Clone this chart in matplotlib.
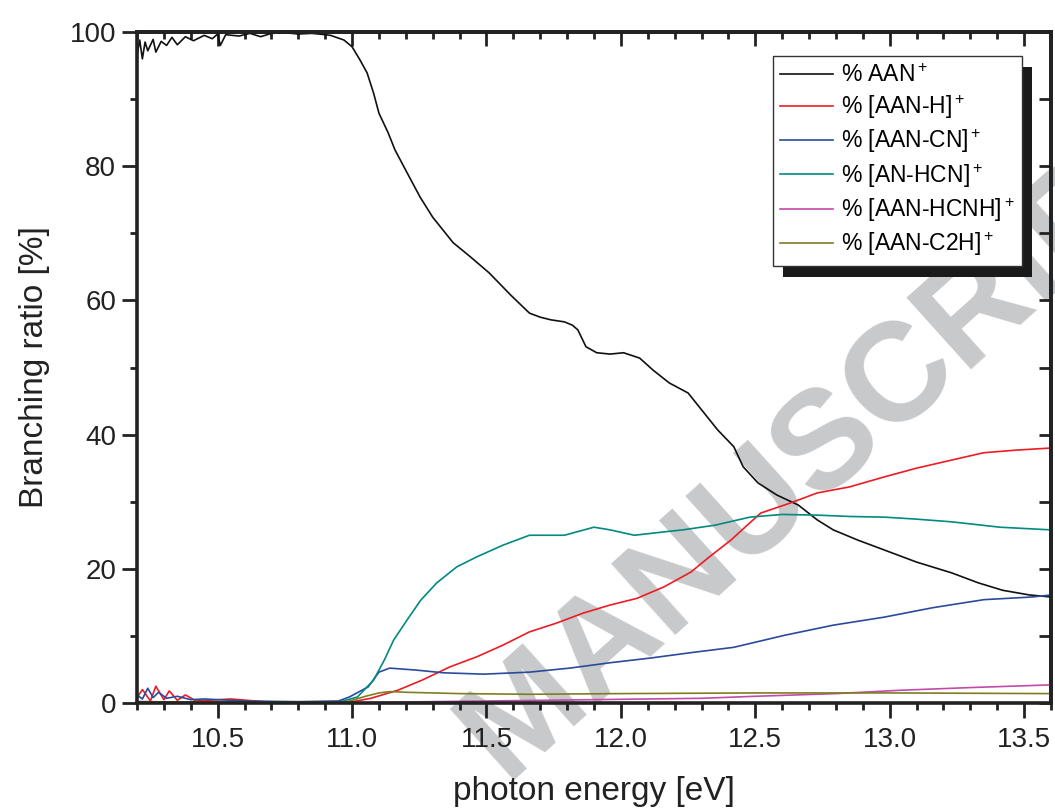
import matplotlib
matplotlib.use("Agg")
import matplotlib.pyplot as plt
from matplotlib.patches import Rectangle
from matplotlib.ticker import MultipleLocator

plt.rcParams['font.family'] = ['Liberation Sans', 'DejaVu Sans']
plt.rcParams['mathtext.fontset'] = 'custom'
plt.rcParams['mathtext.rm'] = 'Liberation Sans'
plt.rcParams['mathtext.it'] = 'Liberation Sans'

# values
aan_e = [10.20, 10.21, 10.22, 10.23, 10.24, 10.26, 10.27, 10.29, 10.31, 10.33, 10.35, 10.38,
         10.41, 10.45, 10.48, 10.50, 10.51, 10.53, 10.58, 10.62, 10.66, 10.70, 10.75, 10.80,
         10.85, 10.90, 10.92, 10.97, 11.00, 11.03, 11.056, 11.08, 11.10, 11.134, 11.16, 11.205,
         11.253, 11.30, 11.376, 11.44, 11.51, 11.59, 11.66, 11.70, 11.74, 11.79, 11.82, 11.84,
         11.87, 11.91, 11.96, 12.01, 12.07, 12.12, 12.18, 12.25, 12.31, 12.36, 12.42, 12.455,
         12.51, 12.58, 12.66, 12.73, 12.79, 12.88, 12.98, 13.10, 13.23, 13.33, 13.42, 13.52, 13.60]
aan_v = [96.5, 98.8, 96.0, 98.5, 97.2, 98.9, 97.0, 98.6, 98.0, 99.2, 98.1, 99.3,
         98.7, 99.5, 99.0, 99.7, 98.0, 99.6, 99.4, 99.8, 99.3, 99.8, 99.9, 99.7,
         99.8, 99.6, 99.5, 98.8, 97.8, 95.8, 93.9, 90.9, 87.9, 85.0, 82.4, 79.0,
         75.4, 72.4, 68.6, 66.5, 64.1, 60.8, 58.1, 57.5, 57.1, 56.8, 56.3, 55.6,
         53.1, 52.2, 52.0, 52.2, 51.4, 49.6, 47.7, 46.2, 43.2, 40.7, 38.2, 35.2,
         32.8, 31.0, 29.5, 27.3, 25.8, 24.3, 22.8, 21.0, 19.4, 17.9, 16.8, 16.1, 15.8]

h_e = [10.20, 10.22, 10.25, 10.27, 10.30, 10.32, 10.35, 10.38, 10.42, 10.55, 10.70, 10.95,
       10.99, 11.07, 11.17, 11.26, 11.365, 11.465, 11.56, 11.66, 11.76, 11.86, 11.96, 12.06,
       12.16, 12.26, 12.33, 12.41, 12.47, 12.52, 12.63, 12.73, 12.85, 12.98, 13.10, 13.23,
       13.35, 13.475, 13.60]
h_v = [0.8, 2.0, 0.3, 2.5, 0.5, 1.8, 0.4, 1.2, 0.3, 0.6, 0.1, 0.0,
       0.1, 0.7, 1.9, 3.4, 5.4, 6.9, 8.6, 10.6, 11.9, 13.4, 14.6, 15.6,
       17.3, 19.5, 21.8, 24.3, 26.5, 28.3, 29.8, 31.3, 32.2, 33.7, 35.0, 36.2,
       37.3, 37.7, 38.0]

cn_e = [10.20, 10.22, 10.24, 10.26, 10.28, 10.31, 10.35, 10.40, 10.45, 10.60, 10.80, 10.95,
        10.99, 11.06, 11.10, 11.14, 11.24, 11.34, 11.49, 11.66, 11.81, 11.96, 12.11, 12.26,
        12.42, 12.61, 12.79, 12.98, 13.16, 13.35, 13.53, 13.60]
cn_v = [1.2, 0.6, 2.2, 0.8, 1.6, 0.7, 1.0, 0.5, 0.6, 0.3, 0.2, 0.3,
        0.9, 2.4, 4.6, 5.2, 4.9, 4.5, 4.3, 4.6, 5.2, 6.0, 6.7, 7.5,
        8.3, 10.1, 11.6, 12.8, 14.2, 15.4, 15.8, 16.1]

hcn_e = [10.20, 10.60, 10.95, 11.02, 11.08, 11.12, 11.155, 11.205, 11.255, 11.315, 11.39,
         11.465, 11.56, 11.66, 11.74, 11.79, 11.90, 11.96, 12.05, 12.16, 12.23, 12.35, 12.48,
         12.60, 12.73, 12.85, 12.98, 13.10, 13.23, 13.41, 13.60]
hcn_v = [0.2, 0.1, 0.1, 0.9, 3.4, 6.4, 9.4, 12.4, 15.3, 17.9, 20.3,
         21.8, 23.5, 25.0, 25.0, 25.0, 26.2, 25.8, 25.0, 25.5, 25.8, 26.5, 27.7,
         28.1, 28.0, 27.8, 27.7, 27.4, 27.0, 26.2, 25.8]

hcnh_e = [10.20, 10.60, 11.00, 11.10, 11.30, 11.50, 12.00, 12.30, 12.50, 12.80, 13.04, 13.30, 13.60]
hcnh_v = [0.1, 0.0, 0.0, 0.1, 0.2, 0.3, 0.55, 0.7, 1.0, 1.4, 1.9, 2.3, 2.7]

c2h_e = [10.20, 10.60, 10.97, 11.00, 11.05, 11.10, 11.14, 11.20, 11.40, 11.66, 12.00, 12.50, 13.00, 13.60]
c2h_v = [0.2, 0.1, 0.1, 0.4, 1.0, 1.5, 1.7, 1.6, 1.4, 1.3, 1.4, 1.5, 1.5, 1.4]

labels = ['% AAN$^+$', '% [AAN-H]$^+$', '% [AAN-CN]$^+$', '% [AN-HCN]$^+$',
          '% [AAN-HCNH]$^+$', '% [AAN-C2H]$^+$']
colors = ['#111111', '#ed1c24', '#2a4b9b', '#008a80', '#c34aa9', '#7f7d22']

W, H = 1055, 809
fig = plt.figure(figsize=(W / 100, H / 100), dpi=100)
ax = fig.add_axes([137/W, 1 - 703/H, (1051 - 137)/W, (703 - 32)/H])
ax.patch.set_alpha(0)

# watermark behind everything
fig.text(505/W, 1 - 780/H, 'MANUSCRIPT', rotation=42, rotation_mode='anchor',
         ha='left', va='baseline', fontsize=101, fontweight='bold',
         color='#c8c9cb', zorder=-1)

series = [(aan_e, aan_v), (h_e, h_v), (cn_e, cn_v), (hcn_e, hcn_v),
          (hcnh_e, hcnh_v), (c2h_e, c2h_v)]
for (e, v), lab, c in zip(series, labels, colors):
    ax.plot(e, v, color=c, lw=1.2, label=lab)

ax.set_xlim(10.2, 13.6)
ax.set_ylim(0, 100)
ax.xaxis.set_minor_locator(MultipleLocator(0.1))
ax.yaxis.set_major_locator(MultipleLocator(20))
ax.yaxis.set_minor_locator(MultipleLocator(10))
ax.set_xticks([10.5, 11.0, 11.5, 12.0, 12.5, 13.0, 13.5])
ax.set_xticklabels(['10.5', '11.0', '11.5', '12.0', '12.5', '13.0', '13.5'])
ax.tick_params(which='both', direction='out', width=2.0, labelsize=20, colors='#222222')
ax.tick_params(which='major', length=11)
ax.tick_params(which='minor', length=5)
ax.tick_params(axis='y', pad=4)
for s in ax.spines.values():
    s.set_linewidth(2.6)
    s.set_color('#222222')

# mirrored ticks pointing into the frame
top = ax.secondary_xaxis('top')
top.xaxis.set_major_locator(MultipleLocator(0.5))
top.xaxis.set_minor_locator(MultipleLocator(0.1))
top.tick_params(which='both', direction='in', width=2.0, labeltop=False, colors='#222222')
top.tick_params(which='major', length=10)
top.tick_params(which='minor', length=5)
top.spines['top'].set_linewidth(2.6)
right = ax.secondary_yaxis('right')
right.yaxis.set_major_locator(MultipleLocator(20))
right.yaxis.set_minor_locator(MultipleLocator(10))
right.tick_params(which='both', direction='in', width=2.0, labelright=False, colors='#222222')
right.tick_params(which='both', length=9)
right.spines['right'].set_linewidth(2.6)

ax.set_xlabel('photon energy [eV]', fontsize=24, color='#222222')
ax.set_ylabel('Branching ratio [%]', fontsize=24, color='#222222', labelpad=14)
ax.xaxis.set_label_coords(0.5, (703 - 776) / (703 - 32))

leg = ax.legend(loc='upper right', bbox_to_anchor=(1022/W, 1 - 56/H),
                bbox_transform=fig.transFigure, borderaxespad=0, fontsize=16.5,
                handlelength=2.3, handletextpad=0.35, labelspacing=0.28,
                borderpad=0.33, fancybox=False, framealpha=1, edgecolor='#333333')
leg.get_frame().set_linewidth(1.0)
leg.set_zorder(6)

# place the x tick labels so their top sits about 727 px from the top
pad = 6.0
ax.tick_params(axis='x', pad=pad)
fig.canvas.draw()
lab_top = H - ax.get_xticklabels()[0].get_window_extent().y1
pad += (727 - lab_top) * 72 / 100
ax.tick_params(axis='x', pad=pad)
fig.canvas.draw()

bb = leg.get_window_extent()
inv = ax.transAxes.inverted()
(x0, y0) = inv.transform((bb.x0 + 10, bb.y0 - 11))
(x1, y1) = inv.transform((bb.x1 + 10, bb.y1 - 11))
ax.add_patch(Rectangle((x0, y0), x1 - x0, y1 - y0, transform=ax.transAxes,
                       facecolor='#1a1a1a', edgecolor='none', clip_on=False, zorder=5))

fig.savefig('out.png', dpi=100)
